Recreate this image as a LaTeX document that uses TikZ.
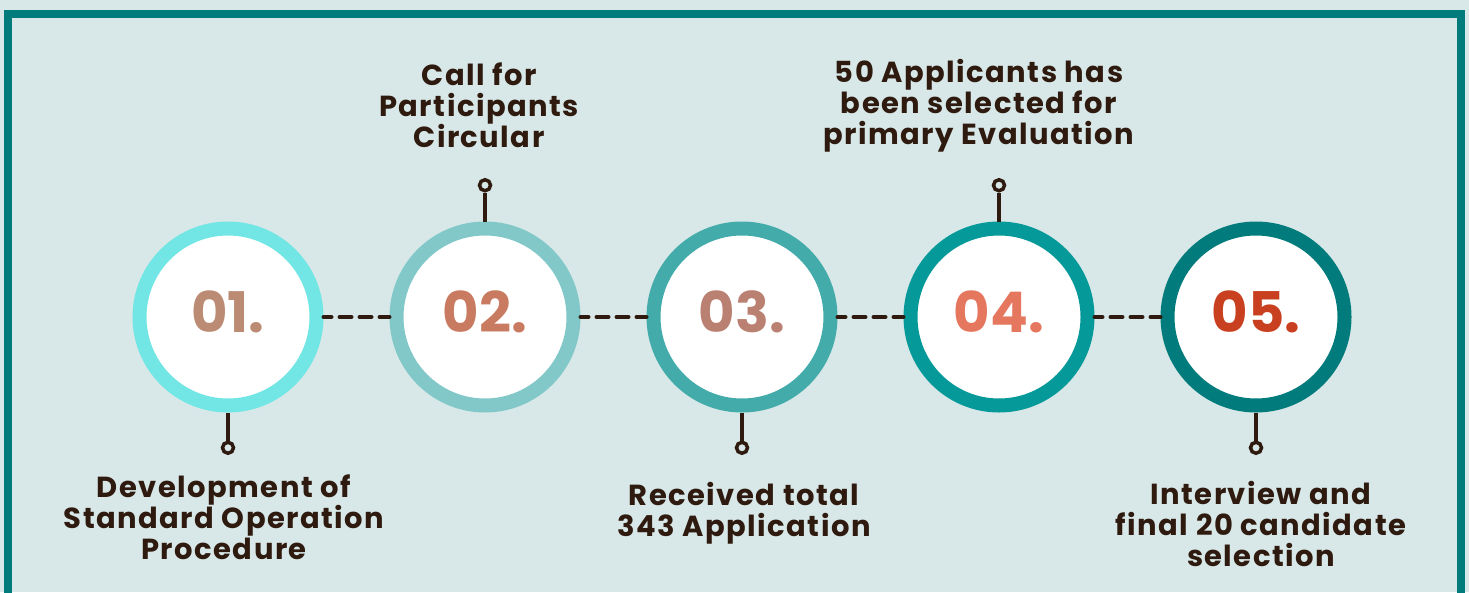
\documentclass[tikz,border=0pt]{standalone}
\usepackage{fontspec}
\setmainfont{Poppins}
\newfontfamily\captionfont[LetterSpace=5]{Poppins}
\usetikzlibrary{positioning}
\definecolor{pagebg}{HTML}{D8E8E8}
\definecolor{framec}{HTML}{017B7B}
\definecolor{ink}{HTML}{2E1A0E}
\definecolor{ringa}{HTML}{72E5E5}
\definecolor{ringb}{HTML}{82C8C8}
\definecolor{ringc}{HTML}{44ABAB}
\definecolor{ringd}{HTML}{069999}
\definecolor{ringe}{HTML}{017B7B}
\definecolor{numa}{HTML}{BB8C73}
\definecolor{numb}{HTML}{C97B62}
\definecolor{numc}{HTML}{BA8172}
\definecolor{numd}{HTML}{E5775F}
\definecolor{nume}{HTML}{C8401F}
\begin{document}
\begin{tikzpicture}[x=1pt,y=-1pt,
  ring/.style={circle, draw, line width=14pt, fill=white, minimum size=177pt, inner sep=0pt},
  number/.style={font=\fontsize{56}{56}\selectfont\bfseries, inner sep=0pt},
  pin/.style={circle, draw=ink, line width=3.5pt, fill=pagebg, minimum size=11pt, inner sep=0pt},
  caption/.style={font=\captionfont\fontsize{29}{31}\selectfont\bfseries, text=ink, align=center, inner sep=0pt},
  stem/.style={draw=ink, line width=3.5pt},
  link/.style={draw=ink, line width=4pt, line cap=round, dash pattern=on 12pt off 8pt, dash phase=4pt}]
  \fill[pagebg] (0,0) rectangle (1469,592);
  \useasboundingbox (0,0) rectangle (1469,592);
  \draw[framec, line width=8pt] (8,14) rectangle (1461,640);
  % the five steps
  \node[ring, draw=ringa] (c1) at (228,317) {};
  \node[ring, draw=ringb, right=66pt of c1] (c2) {};
  \node[ring, draw=ringc, right=66pt of c2] (c3) {};
  \node[ring, draw=ringd, right=66pt of c3] (c4) {};
  \node[ring, draw=ringe, right=66pt of c4] (c5) {};
  \node[number, text=numa] (n1) at ([yshift=5pt]c1.center) {01.};
  \node[number, text=numb] (n2) at ([yshift=5pt]c2.center) {02.};
  \node[number, text=numc] (n3) at ([yshift=5pt]c3.center) {03.};
  \node[number, text=numd] (n4) at ([yshift=5pt]c4.center) {04.};
  \node[number, text=nume] (n5) at ([yshift=5pt]c5.center) {05.};
  \draw[link] (c1) -- (c2);
  \draw[link] (c2) -- (c3);
  \draw[link] (c3) -- (c4);
  \draw[link] (c4) -- (c5);
  % pins
  \node[pin, below=28pt of c1] (p1) {};
  \node[pin, above=29pt of c2] (p2) {};
  \node[pin, below=28pt of c3] (p3) {};
  \node[pin, above=29pt of c4] (p4) {};
  \node[pin, below=28pt of c5] (p5) {};
  \draw[stem] (c1) -- (p1);
  \draw[stem] (c2) -- (p2);
  \draw[stem] (c3) -- (p3);
  \draw[stem] (c4) -- (p4);
  \draw[stem] (c5) -- (p5);
  % captions
  \node[caption, below=20pt of p1, xshift=-4pt] (t1) {Development of\\Standard Operation\\Procedure};
  \node[caption, above=30pt of p2, xshift=-6pt] (t2) {Call for\\Participants\\Circular};
  \node[caption, below=27pt of p3, xshift=2pt] (t3) {Received total\\343 Application};
  \node[caption, above=26pt of p4, xshift=-20pt] (t4) {50 Applicants has\\been selected for\\primary Evaluation};
  \node[caption, below=26pt of p5, xshift=5pt] (t5) {Interview and\\final 20 candidate\\selection};
\end{tikzpicture}
\end{document}
